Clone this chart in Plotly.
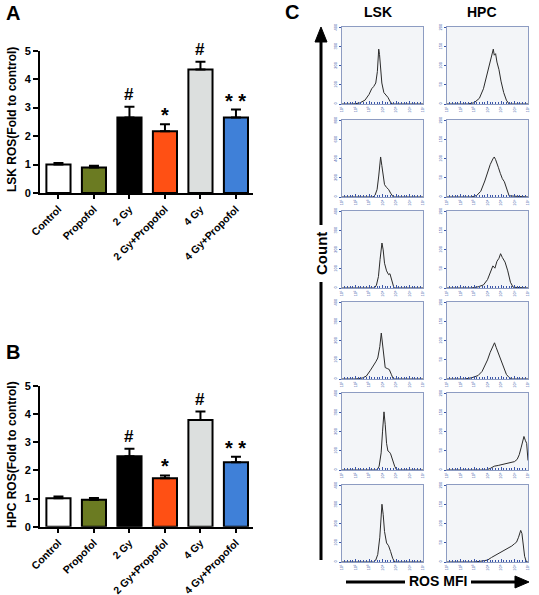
import plotly.graph_objects as go

W, H = 539, 595
FONT = "Arial, Liberation Sans, sans-serif"

# ---------------- data ----------------
categories = ["Control", "Propofol", "2 Gy", "2 Gy+Propofol", "4 Gy", "4 Gy+Propofol"]
bar_colors = ["#ffffff", "#6b7b22", "#000000", "#ff5014", "#dcdfde", "#3f80d8"]

lsk_ros = [1.00, 0.90, 2.65, 2.17, 4.34, 2.65]
lsk_err = [0.05, 0.06, 0.38, 0.25, 0.27, 0.28]
lsk_marks = ["", "", "#", "*", "#", "* *"]

hpc_ros = [1.01, 0.96, 2.50, 1.72, 3.79, 2.29]
hpc_err = [0.06, 0.06, 0.27, 0.10, 0.30, 0.20]
hpc_marks = ["", "", "#", "*", "#", "* *"]

y_ticks_bar = [0, 1, 2, 3, 4, 5]

# flow histograms (x in log decades, y = count)
lsk_x = [
    [0, 0.8, 1.3, 1.7, 2.0, 2.2, 2.35, 2.5, 2.62, 2.72, 2.78, 2.85, 2.95, 3.1, 3.25, 3.4, 3.55, 3.7, 6],
    [0, 2.3, 2.45, 2.6, 2.72, 2.8, 2.86, 2.95, 3.05, 3.15, 3.3, 3.45, 3.6, 3.8, 6],
    [0, 2.4, 2.55, 2.7, 2.82, 2.9, 2.96, 3.05, 3.15, 3.3, 3.45, 3.55, 3.7, 3.85, 6],
    [0, 1.0, 1.5, 1.8, 2.1, 2.3, 2.5, 2.65, 2.8, 2.91, 3.0, 3.1, 3.2, 3.35, 3.5, 3.65, 3.8, 6],
    [0, 2.6, 2.75, 2.9, 3.0, 3.11, 3.2, 3.3, 3.4, 3.5, 3.6, 3.75, 3.9, 4.05, 6],
    [0, 2.35, 2.5, 2.65, 2.8, 2.9, 2.96, 3.05, 3.15, 3.3, 3.45, 3.6, 3.75, 3.9, 6],
]
lsk_y = [
    [0, 0, 5, 20, 50, 80, 92, 110, 170, 288, 260, 180, 110, 60, 50, 35, 15, 0, 0],
    [0, 0, 20, 80, 220, 360, 420, 330, 200, 130, 100, 80, 40, 0, 0],
    [0, 0, 15, 60, 150, 230, 236, 200, 130, 90, 70, 75, 40, 0, 0],
    [0, 0, 5, 15, 45, 65, 90, 110, 170, 241, 190, 110, 60, 55, 50, 25, 0, 0],
    [0, 0, 20, 90, 200, 305, 240, 140, 100, 95, 85, 50, 20, 0, 0],
    [0, 0, 10, 40, 130, 240, 303, 250, 160, 100, 85, 55, 20, 0, 0],
]
hpc_x = [
    [0, 1.5, 2.0, 2.4, 2.7, 2.9, 3.1, 3.25, 3.35, 3.43, 3.5, 3.6, 3.7, 3.85, 4.0, 4.2, 4.4, 4.6, 6],
    [0, 1.8, 2.2, 2.5, 2.8, 3.0, 3.2, 3.4, 3.5, 3.6, 3.7, 3.8, 3.95, 4.1, 4.25, 4.4, 4.6, 6],
    [0, 1.8, 2.3, 2.7, 3.0, 3.2, 3.4, 3.55, 3.7, 3.85, 3.97, 4.1, 4.3, 4.5, 4.7, 4.9, 6],
    [0, 1.3, 1.8, 2.3, 2.6, 2.8, 3.0, 3.2, 3.4, 3.52, 3.65, 3.8, 4.0, 4.2, 4.4, 4.6, 4.8, 6],
    [0, 2.9, 3.2, 3.5, 3.8, 4.1, 4.4, 4.7, 5.0, 5.2, 5.35, 5.5, 5.62, 5.7, 5.8, 5.9, 6],
    [0, 2.0, 2.5, 3.0, 3.3, 3.6, 3.9, 4.2, 4.5, 4.8, 5.0, 5.15, 5.3, 5.4, 5.46, 5.55, 5.65, 5.75, 5.88, 6],
]
hpc_y = [
    [0, 0, 3, 15, 40, 70, 100, 122, 130, 144, 128, 132, 110, 90, 60, 30, 10, 0, 0],
    [0, 0, 4, 15, 42, 65, 85, 100, 105, 98, 90, 78, 62, 48, 40, 22, 3, 0],
    [0, 0, 3, 8, 22, 40, 58, 52, 70, 78, 90, 80, 68, 45, 15, 2, 0],
    [0, 0, 3, 9, 20, 34, 50, 70, 85, 95, 82, 68, 50, 28, 12, 4, 0, 0],
    [0, 0, 4, 10, 12, 14, 16, 18, 22, 28, 40, 60, 80, 88, 78, 70, 25],
    [0, 0, 2, 5, 12, 18, 25, 30, 35, 42, 48, 52, 65, 78, 83, 75, 45, 15, 0, 0],
]
lsk_ymax = [400, 800, 400, 400, 400, 400]
hpc_ymax = [200, 200, 200, 200, 200, 200]
hist_xticktext = ["10\u00b9", "10\u00b2", "10\u00b3", "10\u2074", "10\u2075", "10\u2076", "10\u2077"]


def X(px):
    return px / W


def Y(py):
    return 1 - py / H


def label(px, py, text, size, angle=0):
    return dict(x=X(px), y=Y(py), xref="paper", yref="paper", text=text,
                xanchor="center", yanchor="middle", textangle=angle, showarrow=False,
                font=dict(family=FONT, size=size, color="black"))


fig = go.Figure()
layout = dict(
    width=W, height=H, margin=dict(l=0, r=0, t=0, b=0, autoexpand=False),
    paper_bgcolor="white", plot_bgcolor="rgba(0,0,0,0)",
    showlegend=False, font=dict(family=FONT, color="black"),
)
annotations = []
shapes = []

# ---------------- bar panels ----------------
bar_panels = [
    ("", lsk_ros, lsk_err, lsk_marks, 50.7, 193.0, "LSK ROS(Fold to control)", 120),
    ("2", hpc_ros, hpc_err, hpc_marks, 386.0, 526.7, "HPC ROS(Fold to control)", 455),
]
for sfx, vals, errs, marks, ytop, ybot, title, tcy in bar_panels:
    fig.add_trace(go.Bar(
        x=list(range(len(categories))), y=vals, width=0.68,
        marker=dict(color=bar_colors, line=dict(color="black", width=2)),
        error_y=dict(type="data", array=errs, arrayminus=[0] * len(errs), symmetric=False,
                     color="black", thickness=2, width=5),
        xaxis="x" + sfx, yaxis="y" + sfx,
    ))
    layout["xaxis" + sfx] = dict(
        domain=[X(40), X(253)], anchor="y" + sfx, range=[-0.52, 5.48], automargin=False,
        tickvals=list(range(len(categories))), ticktext=categories, tickangle=-45,
        showline=True, linecolor="black", linewidth=2, ticks="outside", ticklen=4,
        tickwidth=2, tickcolor="black", showgrid=False, zeroline=False,
        tickfont=dict(family=FONT, size=10.5, weight="bold", color="black"),
    )
    layout["yaxis" + sfx] = dict(
        domain=[Y(ybot), Y(ytop)], anchor="x" + sfx, range=[0, 5], automargin=False,
        tickvals=y_ticks_bar, showline=True, linecolor="black", linewidth=2,
        ticks="outside", ticklen=5, tickwidth=2, tickcolor="black", showgrid=False,
        zeroline=False, tickfont=dict(family=FONT, size=11, weight="bold", color="black"),
    )
    for i, m in enumerate(marks):
        if m:
            annotations.append(dict(
                x=i, y=vals[i] + errs[i], xref="x" + sfx, yref="y" + sfx, text="<b>%s</b>" % m,
                showarrow=False, xanchor="center", yanchor="bottom",
                yshift=(1 if m == "#" else -4),
                font=dict(family=FONT, size=(17 if m == "#" else 20), color="black"),
            ))
    annotations.append(label(12, tcy, "<b>%s</b>" % title, 12, -90))

# panel letters
for letter, px, py in [("A", 13, 13), ("B", 13, 352), ("C", 292, 12)]:
    annotations.append(label(px, py, "<b>%s</b>" % letter, 20))

# ---------------- histogram grid ----------------
row_tops = [27, 120, 211, 302, 393, 485]
row_h = 77
col_x = [(342, 423), (447, 528)]
axis_blue = "#3a55a8"
n = 3
for r in range(6):
    for c in range(2):
        xs = lsk_x[r] if c == 0 else hpc_x[r]
        ys = lsk_y[r] if c == 0 else hpc_y[r]
        ymax = lsk_ymax[r] if c == 0 else hpc_ymax[r]
        xa, ya = "x%d" % n, "y%d" % n
        fig.add_trace(go.Scatter(x=xs, y=ys, mode="lines",
                                 line=dict(color="#2b2b2b", width=1),
                                 xaxis=xa, yaxis=ya, hoverinfo="skip"))
        x0, x1 = col_x[c]
        layout["xaxis%d" % n] = dict(
            domain=[X(x0), X(x1)], anchor=ya, range=[0, 6], automargin=False,
            tickvals=list(range(7)), ticktext=hist_xticktext, tickangle=-90,
            tickfont=dict(size=4, color=axis_blue), showline=True, mirror=True,
            linecolor="#8d9cc2", linewidth=1, ticks="inside", ticklen=3,
            tickcolor=axis_blue, showgrid=False, zeroline=False,
            minor=dict(dtick=0.2, ticks="inside", ticklen=2, tickcolor=axis_blue),
        )
        layout["yaxis%d" % n] = dict(
            domain=[Y(row_tops[r] + row_h), Y(row_tops[r])], anchor=xa, automargin=False,
            range=[0, ymax * 1.01], tickvals=[ymax * k / 4 for k in range(5)],
            ticktext=[str(int(ymax * k / 4)) for k in range(5)],
            tickfont=dict(size=4, color=axis_blue), tickangle=-90,
            showline=True, mirror=True, linecolor="#8d9cc2", linewidth=1,
            ticks="outside", ticklen=2, tickcolor=axis_blue, showgrid=False, zeroline=False,
        )
        shapes.append(dict(type="rect", xref="%s domain" % xa, yref="%s domain" % ya,
                           x0=0, x1=1, y0=0, y1=1, fillcolor="#f3f5f8", line=dict(width=0),
                           layer="below"))
        n += 1

# column titles
for txt, px in [("LSK", 378), ("HPC", 482)]:
    annotations.append(label(px, 12, "<b>%s</b>" % txt, 14))

# Count arrow (vertical)
shapes.append(dict(type="line", xref="paper", yref="paper", x0=X(321), x1=X(321),
                   y0=Y(560), y1=Y(282), line=dict(color="black", width=3)))
shapes.append(dict(type="line", xref="paper", yref="paper", x0=X(321), x1=X(321),
                   y0=Y(225), y1=Y(40), line=dict(color="black", width=3)))
shapes.append(dict(type="path", xref="paper", yref="paper",
                   path="M %f %f L %f %f L %f %f Z" % (X(315), Y(42), X(327), Y(42), X(321), Y(27)),
                   fillcolor="black", line=dict(color="black", width=1)))
annotations.append(label(321, 253, "<b>Count</b>", 15, -90))

# ROS MFI arrow (horizontal)
shapes.append(dict(type="line", xref="paper", yref="paper", x0=X(346), x1=X(405),
                   y0=Y(582), y1=Y(582), line=dict(color="black", width=3)))
shapes.append(dict(type="line", xref="paper", yref="paper", x0=X(471), x1=X(518),
                   y0=Y(582), y1=Y(582), line=dict(color="black", width=3)))
shapes.append(dict(type="path", xref="paper", yref="paper",
                   path="M %f %f L %f %f L %f %f Z" % (X(515), Y(576), X(515), Y(588), X(529), Y(582)),
                   fillcolor="black", line=dict(color="black", width=1)))
annotations.append(label(438, 581, "<b>ROS MFI</b>", 14))

layout["annotations"] = annotations
layout["shapes"] = shapes
fig.update_layout(**layout)

fig.write_html("out.html", config={"displayModeBar": False},
               post_script="document.body.style.margin='0';document.body.style.overflow='hidden';")
